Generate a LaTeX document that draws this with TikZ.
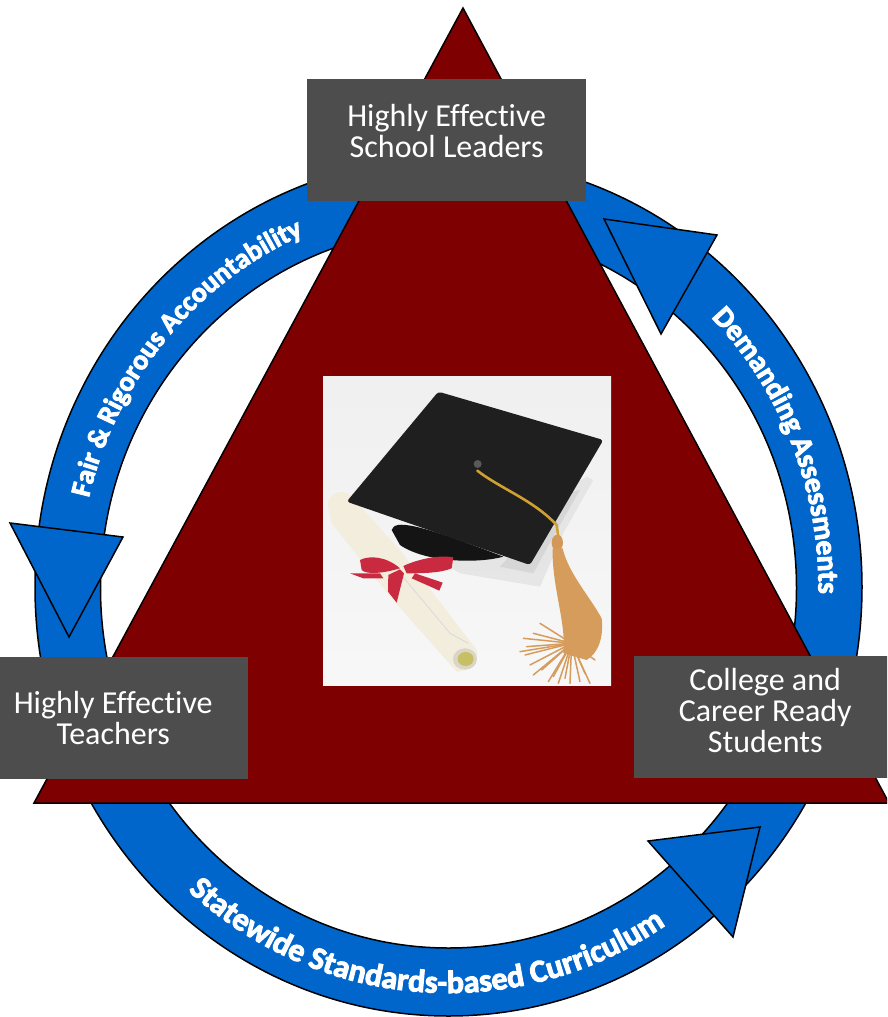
\documentclass[tikz,border=0pt]{standalone}
\usepackage{fontspec}
\setmainfont[Ligatures=NoCommon]{Carlito}
\newfontfamily\ringfont[FakeBold=3,Ligatures=NoCommon]{Carlito Bold}
\usetikzlibrary{decorations.text}
\definecolor{ringblue}{HTML}{0066CC}
\definecolor{wine}{HTML}{7F0000}
\definecolor{boxgrey}{HTML}{4D4D4D}
\definecolor{paper}{HTML}{F3EDDD}
\definecolor{ribbon}{HTML}{C92A40}
\definecolor{tassel}{HTML}{D69C5C}
\definecolor{cord}{HTML}{D0A030}
\tikzset{
  outline/.style={draw=black,line width=1.5pt,line join=miter},
  ringshape/.style={outline,fill=ringblue,even odd rule},
  headshape/.style={outline,fill=ringblue},
  boxnode/.style={fill=boxgrey,inner sep=0pt,anchor=north west},
  boxtext/.style={text=white,font=\fontsize{32}{31}\selectfont,align=center,inner sep=0pt},
  ringlabel/.style={decorate,decoration={text along path,text align=center,text color=white}},
  strand/.style={draw=tassel,line width=1.5pt,line cap=round}
}
\begin{document}
\begin{tikzpicture}[x=1pt,y=1pt]
\useasboundingbox (0,0) rectangle (887,-1017);
\clip (0,0) rectangle (887,-1017);
% ring
\path[ringshape] (448.5,-587) ellipse [x radius=413.5,y radius=429]
                 (448.5,-588) ellipse [x radius=348,y radius=360];
% arrowheads
\coordinate (a1) at (604,-219); \coordinate (a2) at (717,-235); \coordinate (a3) at (661,-334);
\coordinate (b1) at (10,-523);  \coordinate (b2) at (123,-537); \coordinate (b3) at (69,-637);
\coordinate (c1) at (648,-841); \coordinate (c2) at (760,-827); \coordinate (c3) at (733,-937);
\draw[headshape] (a1) -- (a2) -- (a3) -- cycle;
\draw[headshape] (b1) -- (b2) -- (b3) -- cycle;
\draw[headshape] (c1) -- (c2) -- (c3) -- cycle;
% triangle
\coordinate (t1) at (463,-8); \coordinate (t2) at (889,-803); \coordinate (t3) at (34,-803);
\draw[outline,fill=wine] (t1) -- (t2) -- (t3) -- cycle;
% ring labels
\path[ringlabel,decoration={text={|\ringfont\fontsize{29.5}{30}\selectfont|Demanding Assessments}}]
  (448.5,-588) ++(48:370 and 384) arc[start angle=48,end angle=-4,x radius=370,y radius=384];
\path[ringlabel,decoration={text={|\ringfont\fontsize{28}{28}\selectfont|Fair {\&} Rigorous Accountability}}]
  (448.5,-588) ++(166:370 and 384) arc[start angle=166,end angle=113.5,x radius=370,y radius=384];
\path[ringlabel,decoration={text={|\ringfont\fontsize{32}{32}\selectfont|Statewide Standards-based Curriculum}}]
  (448.5,-588) ++(227:392 and 405) arc[start angle=227,end angle=305,x radius=392,y radius=405];
% photograph, in a scope whose units are those of a 3x crop
\node[top color=black!6,bottom color=black!3,minimum width=288pt,minimum height=309pt,inner sep=0pt,anchor=north west] (photo) at (323,-376) {};
\begin{scope}[shift={(300,-360)},x=0.3333pt,y=-0.3333pt]
  \fill[black!12,opacity=.7] (860,350) -- (880,360) -- (790,520) -- (720,680) -- (480,640) -- (430,610) -- cycle;
  \fill[black!18,opacity=.7] (800,400) -- (840,390) -- (760,530) -- (700,640) -- (600,620) -- cycle;
  % diploma
  \fill[paper] (82,430) .. controls (90,400) and (125,385) .. (150,405) -- (300,570) -- (530,870)
     .. controls (535,900) and (530,930) .. (470,935) -- (275,715) -- (95,490) -- cycle;
  \draw[black!15,line width=.8pt] (300,640) -- (450,820) -- (505,850);
  \fill[paper!90!black] (495,897) ellipse [x radius=36,y radius=32];
  \fill[olive!45!paper] (497,897) ellipse [x radius=24,y radius=21];
  % cap
  \fill[black!92] (275,510) .. controls (285,478) and (350,490) .. (610,590)
     .. controls (540,610) and (380,610) .. (300,555) -- cycle;
  \fill[black!88,rounded corners=3pt] (415,95) -- (910,240) -- (690,615) -- (140,425) -- cycle;
  % ribbon
  \fill[ribbon] (180,600) .. controls (210,585) and (260,590) .. (300,625) .. controls (250,640) and (200,645) .. (185,630) -- cycle;
  \fill[ribbon] (310,618) .. controls (360,595) and (420,585) .. (460,592) -- (455,625) .. controls (420,640) and (360,640) .. (320,640) -- cycle;
  \fill[ribbon] (150,640) -- (240,640) -- (250,655) -- (190,655) -- cycle;
  \fill[ribbon] (345,640) -- (428,668) -- (418,692) -- (335,655) -- cycle;
  \fill[ribbon] (265,645) -- (300,628) -- (312,640) -- (290,728) -- (264,695) -- cycle;
  % tassel
  \fill[black!65] (533,312) circle [radius=12];
  \draw[cord,line width=2.6pt,line cap=round] (532,332) .. controls (600,385) and (700,420) .. (770,495) -- (775,530);
  \fill[tassel!85!brown] (772,548) ellipse [x radius=17,y radius=24];
  \fill[tassel] (758,565) -- (788,565) .. controls (805,640) and (870,710) .. (905,775)
     .. controls (912,830) and (895,880) .. (860,900) -- (790,880) .. controls (800,790) and (755,680) .. (758,565) -- cycle;
  \foreach \ex/\ey in {660/875,670/835,690/915,720/790,700/945,745/965,775/970,810/970,840/965,870/970,680/860,725/930,760/950,795/955,675/885,700/820,855/940,885/900}
    \draw[strand] (815,850) -- (\ex,\ey);
\end{scope}
% boxes
\node[boxnode,minimum width=279pt,minimum height=122pt,label={[boxtext,yshift=9pt]center:Highly Effective\\School Leaders}] (leaders) at (307,-79) {};
\node[boxnode,minimum width=270pt,minimum height=122pt,label={[boxtext]center:Highly Effective\\Teachers}] (teachers) at (-22,-657) {};
\node[boxnode,minimum width=262pt,minimum height=122pt,label={[boxtext,yshift=7pt]center:College and\\Career Ready\\Students}] (students) at (634,-656) {};
\end{tikzpicture}
\end{document}
